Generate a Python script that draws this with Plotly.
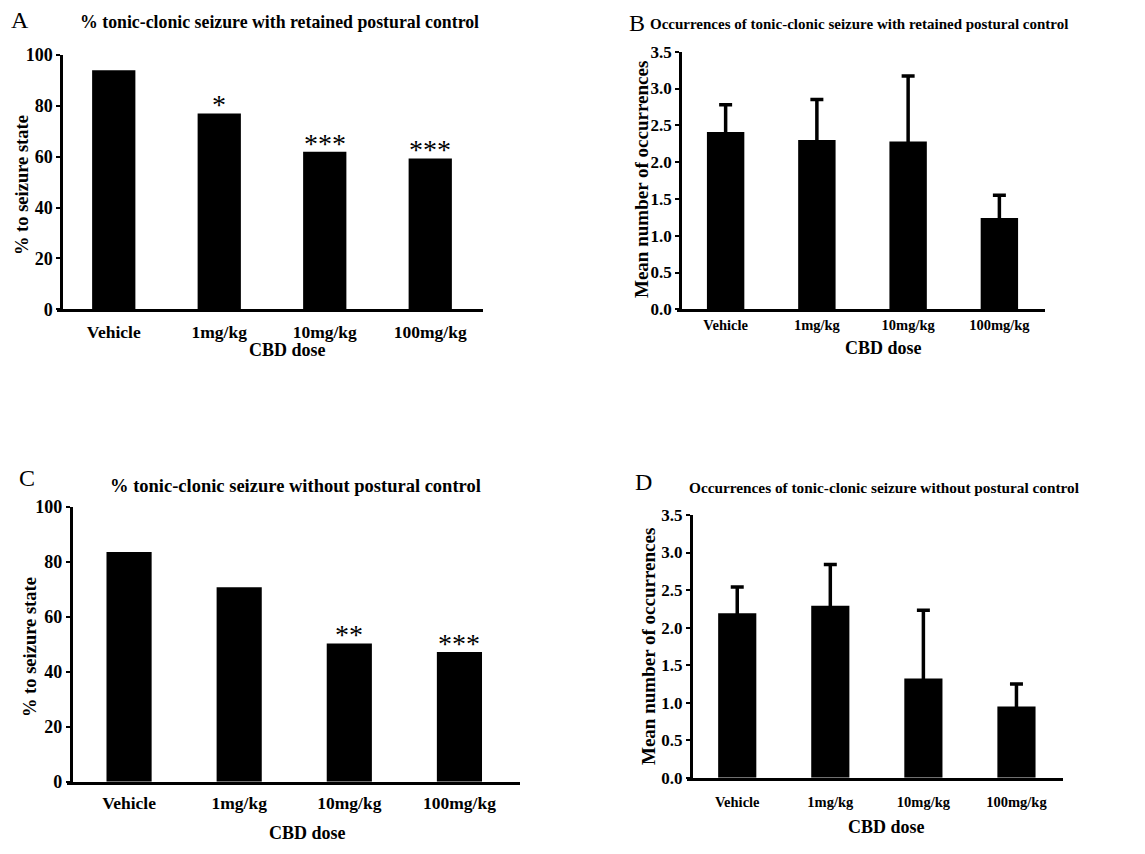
import plotly.graph_objects as go

W, H = 1145, 854
OFF = 8  # page body margin offset

doses = ["Vehicle", "1mg/kg", "10mg/kg", "100mg/kg"]

# Panel A: % tonic-clonic seizure with retained postural control
pct_retained = [94, 77, 62, 59.3]
sig_retained = ["", "*", "***", "***"]

# Panel B: occurrences with retained postural control (mean, upper error)
occ_retained = [2.41, 2.30, 2.28, 1.24]
occ_retained_err = [0.37, 0.55, 0.89, 0.31]

# Panel C: % tonic-clonic seizure without postural control
pct_without = [83.5, 70.7, 50.3, 47.2]
sig_without = ["", "", "**", "***"]

# Panel D: occurrences without postural control
occ_without = [2.19, 2.29, 1.32, 0.95]
occ_without_err = [0.35, 0.55, 0.91, 0.30]

FONT = "Liberation Serif"


def px(x):
    return (x - OFF) / W


def py(y):
    return 1 - (y - OFF) / H


fig = go.Figure()

panels = [
    dict(name="A", xs=57, yx=61, xe=483, yt=55, yb=309.3, ymax=100, dtick=20,
         data=pct_retained, err=None, fmt=",d", stand=5),
    dict(name="B", xs=677, yx=680, xe=1045, yt=51.7, yb=309.3, ymax=3.5, dtick=0.5,
         data=occ_retained, err=occ_retained_err, fmt=".1f", stand=0),
    dict(name="C", xs=67, yx=70.7, xe=520, yt=506.7, yb=781.7, ymax=100, dtick=20,
         data=pct_without, err=None, fmt=",d", stand=3),
    dict(name="D", xs=687, yx=690.7, xe=1063, yt=515, yb=777.7, ymax=3.5, dtick=0.5,
         data=occ_without, err=occ_without_err, fmt=".1f", stand=9),
]

layout_axes = {}
for i, p in enumerate(panels, start=1):
    xa = "x" if i == 1 else f"x{i}"
    ya = "y" if i == 1 else f"y{i}"
    if p["name"] == "C":
        slot = (p["xe"] - p["yx"]) / 4.08
        r0 = -0.53 - (p["yx"] - p["xs"]) / slot
        r1 = 3.55
    else:
        slot = (p["xe"] - p["yx"]) / 4
        r0 = -0.5 - (p["yx"] - p["xs"]) / slot
        r1 = 3.5
    small = p["name"] in ("B", "D")
    bar_kwargs = dict(
        x=doses, y=p["data"], xaxis=xa, yaxis=ya,
        marker=dict(color="black", line=dict(color="black", width=0)),
        width=0.41, showlegend=False, hoverinfo="x+y",
    )
    if p["err"] is not None:
        # lower whisker kept short so it stays hidden inside the black bar
        bar_kwargs["error_y"] = dict(type="data", symmetric=False, array=p["err"],
                                     arrayminus=[0.12] * 4, color="black",
                                     thickness=3.5, width=6.5)
    fig.add_trace(go.Bar(**bar_kwargs))

    layout_axes["xaxis" if i == 1 else f"xaxis{i}"] = dict(
        domain=[px(p["xs"]), px(p["xe"])], range=[r0, r1], anchor=ya,
        type="category", categoryorder="array", categoryarray=doses,
        showline=True, linecolor="black", linewidth=3, ticks="", ticklen=0,
        showgrid=False, zeroline=False, automargin=False,
        tickfont=dict(family=FONT, size=14.5 if small else 17.5, color="black", weight="bold"),
        ticklabelstandoff=p["stand"],
        fixedrange=True,
    )
    layout_axes["yaxis" if i == 1 else f"yaxis{i}"] = dict(
        domain=[py(p["yb"]), py(p["yt"])], range=[0, p["ymax"]],
        anchor="free", position=px(p["yx"]),
        showline=True, linecolor="black", linewidth=2.5,
        ticks="outside", ticklen=4, tickwidth=2, tickcolor="black",
        dtick=p["dtick"], tick0=0, tickformat=p["fmt"],
        showgrid=False, zeroline=False, automargin=False,
        tickfont=dict(family=FONT, size=17 if small else 18, color="black", weight="bold"),
        ticklabelstandoff=0,
        fixedrange=True,
    )

annotations = []


def txt(x, y, text, size, bold=True, angle=0, xanchor="center", yanchor="middle", height=None):
    a = dict(
        x=px(x), y=py(y), xref="paper", yref="paper", text=text, showarrow=False,
        xanchor=xanchor, yanchor=yanchor, textangle=angle,
        font=dict(family=FONT, size=size, color="black",
                  weight="bold" if bold else "normal"),
    )
    if height is not None:
        a["height"] = height
    annotations.append(a)


# panel letters
txt(20, 20.5, "A", 24, bold=False, height=20)
txt(637, 23.5, "B", 24, bold=False, height=20)
txt(27, 478, "C", 24, bold=False, height=20)
txt(643, 482, "D", 24, bold=False, height=20)

# titles
txt(279, 22, "% tonic-clonic seizure with retained postural control", 17.8)
txt(859, 24, "Occurrences of tonic-clonic seizure with retained postural control", 15)
txt(295, 486, "% tonic-clonic seizure without postural control", 18.5)
txt(884, 488, "Occurrences of tonic-clonic seizure without postural control", 15.3)

# y-axis titles
txt(22, 185, "% to seizure state", 18.5, angle=-90)
txt(641, 180, "Mean number of occurrences", 19, angle=-90)
txt(30, 647, "% to seizure state", 18.5, angle=-90)
txt(648, 647, "Mean number of occurrences", 19, angle=-90)

# x-axis titles
txt(287, 350, "CBD dose", 18)
txt(883, 348, "CBD dose", 18)
txt(307, 833, "CBD dose", 18)
txt(886, 827, "CBD dose", 18)

# significance stars
for i, (vals, sigs) in enumerate([(pct_retained, sig_retained), (pct_without, sig_without)]):
    ya = "y" if i == 0 else "y3"
    xa = "x" if i == 0 else "x3"
    for d, v, s in zip(doses, vals, sigs):
        if s:
            annotations.append(dict(
                x=d, y=v, xref=xa, yref=ya, text=s, showarrow=False,
                yanchor="bottom", yshift=-9,
                font=dict(family=FONT, size=28, color="black"),
            ))

fig.update_layout(
    width=W, height=H,
    margin=dict(l=0, r=0, t=0, b=0, pad=0, autoexpand=False),
    paper_bgcolor="white", plot_bgcolor="rgba(0,0,0,0)",
    annotations=annotations, showlegend=False,
    **layout_axes,
)

fig.write_html("out.html")
